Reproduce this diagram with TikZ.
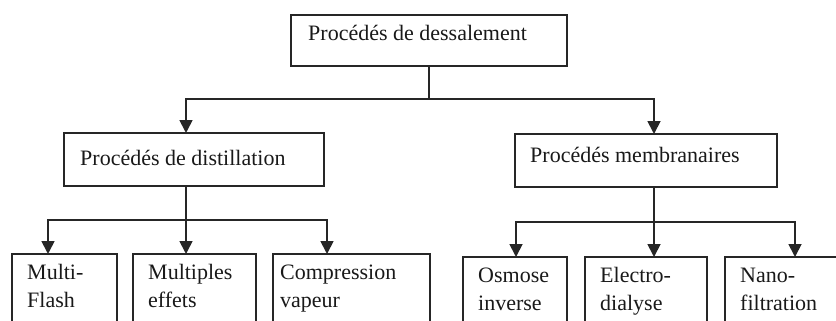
\documentclass[tikz,border=0pt]{standalone}
\usepackage{fontspec}
\setmainfont{Liberation Serif}
\usetikzlibrary{arrows.meta,calc}
\begin{document}
\begin{tikzpicture}[x=1pt,y=-1pt,
  box/.style={draw=black!85,line width=1.8pt,rectangle,inner sep=0pt,outer sep=0pt,anchor=north west},
  lbl/.style={inner sep=0pt,anchor=base west,align=left,font=\fontsize{22}{28}\selectfont,text=black!90},
  link/.style={draw=black!85,line width=1.8pt},
  arr/.style={link,-{Triangle[width=13pt,length=13pt]}}]
\useasboundingbox (0,0) rectangle (836,321);
\clip (0,0) rectangle (836,321);
% boxes
\node[box,minimum width=276pt,minimum height=51pt] (top) at (291,15) {};
\node[box,minimum width=260pt,minimum height=53pt] (dist) at (64,133) {};
\node[box,minimum width=262pt,minimum height=53pt] (memb) at (515,134) {};
\node[box,minimum width=105pt,minimum height=100pt] (mf) at (12,254) {};
\node[box,minimum width=123pt,minimum height=100pt] (me) at (133,254) {};
\node[box,minimum width=157pt,minimum height=100pt] (cv) at (273,254) {};
\node[box,minimum width=104pt,minimum height=100pt] (oi) at (463,257) {};
\node[box,minimum width=122pt,minimum height=100pt] (ed) at (585,257) {};
\node[box,minimum width=130pt,minimum height=100pt] (nf) at (725,257) {};
% texts
\node[lbl] (ttop) at (308,41) {Procédés de dessalement};
\node[lbl] (tdist) at (80,165) {Procédés de distillation};
\node[lbl] (tmemb) at (530,162) {Procédés membranaires};
\node[lbl] (tmf) at (27,307) {Multi-\\Flash};
\node[lbl] (tme) at (148,307) {Multiples\\effets};
\node[lbl] (tcv) at (280,307) {Compression\\vapeur};
\node[lbl] (toi) at (478,310) {Osmose\\inverse};
\node[lbl] (ted) at (600,310) {Electro-\\dialyse};
\node[lbl] (tnf) at (740,310) {Nano-\\filtration};
% connector coordinates
\coordinate (j0) at (429,99);
\coordinate (dIn) at (186,133);
\coordinate (mIn) at (654,134);
\coordinate (dOut) at (186,186);
\coordinate (mOut) at (654,187);
\coordinate (dj) at (186,220);
\coordinate (mj) at (654,222);
\coordinate (mfIn) at (48,254);
\coordinate (meIn) at (186,254);
\coordinate (cvIn) at (327,254);
\coordinate (oiIn) at (516,257);
\coordinate (edIn) at (654,257);
\coordinate (nfIn) at (795,257);
% connectors
\draw[link] (top.south) -- (top.south |- j0);
\draw[link] (top.south |- j0) -- (j0);
\draw[arr] (j0) -| (dIn);
\draw[arr] (j0) -| (mIn);
\draw[link] (dOut) -- (dj);
\draw[arr] (dj) -| (mfIn);
\draw[arr] (dj) -- (meIn);
\draw[arr] (dj) -| (cvIn);
\draw[link] (mOut) -- (mj);
\draw[arr] (mj) -| (oiIn);
\draw[arr] (mj) -- (edIn);
\draw[arr] (mj) -| (nfIn);
\end{tikzpicture}
\end{document}
